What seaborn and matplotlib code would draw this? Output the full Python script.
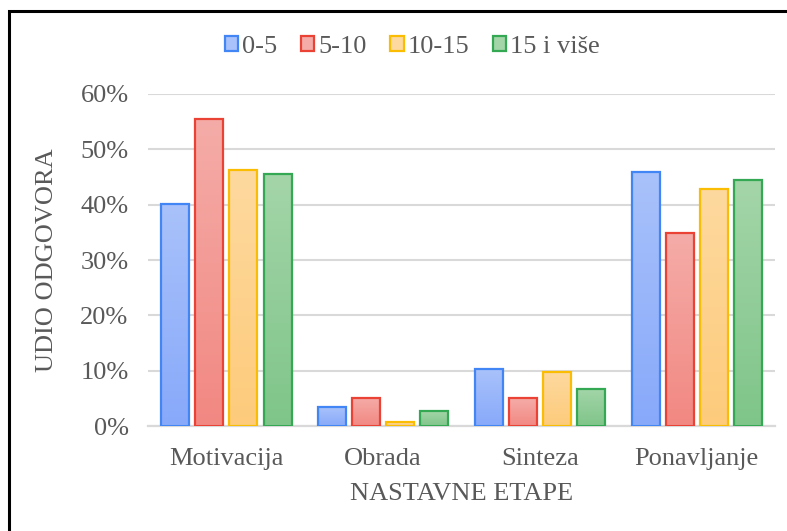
import numpy as np
import pandas as pd
import seaborn as sns
import matplotlib.pyplot as plt
from matplotlib.patches import Patch, Rectangle
from matplotlib.colors import LinearSegmentedColormap

# data
etape = ["Motivacija", "Obrada", "Sinteza", "Ponavljanje"]
grupe = ["0-5", "5-10", "10-15", "15 i više"]
v_0_5 = [0.402, 0.034, 0.103, 0.459]
v_5_10 = [0.555, 0.051, 0.050, 0.349]
v_10_15 = [0.463, 0.007, 0.098, 0.429]
v_15_vise = [0.456, 0.027, 0.067, 0.445]

edge_cols = ["#4285f4", "#ea4335", "#fbbc04", "#34a853"]
top_cols = ["#a9c2fb", "#f5aca8", "#fed99f", "#a4d5a9"]
bot_cols = ["#88a9fa", "#f28882", "#fdcb7b", "#7fc589"]

df = pd.DataFrame({
    "etapa": etape * 4,
    "grupa": np.repeat(grupe, 4),
    "udio": v_0_5 + v_5_10 + v_10_15 + v_15_vise,
})

sns.set_theme(style="white")
plt.rcParams["font.family"] = ["Liberation Serif", "DejaVu Serif"]
txt = "#595959"
fs = 19

fig = plt.figure(figsize=(7.87, 5.31), dpi=100)
ax = fig.add_axes([0.188, 0.1977, 0.797, 0.6253])

sns.barplot(data=df, x="etapa", y="udio", hue="grupa", order=etape,
            hue_order=grupe, palette=edge_cols, width=0.87, gap=0.18,
            legend=False, ax=ax)

# gradient fill for every bar, outline in series colour
for i, cont in enumerate(ax.containers):
    cmap = LinearSegmentedColormap.from_list("g%d" % i, [bot_cols[i], top_cols[i]])
    for p in cont.patches:
        x0, y0 = p.get_x(), p.get_y()
        w, h = p.get_width(), p.get_height()
        p.set_facecolor("none")
        p.set_edgecolor(edge_cols[i])
        p.set_linewidth(1.6)
        p.set_zorder(3)
        grad = np.linspace(0, 1, 100).reshape(-1, 1)
        im = ax.imshow(grad, cmap=cmap, origin="lower", aspect="auto",
                       extent=[x0, x0 + w, y0, y0 + h], zorder=2)
        im.set_clip_path(p)

ax.set_xlim(-0.5, 3.5)
ax.set_ylim(0, 0.6)
ax.set_yticks([0, 0.1, 0.2, 0.3, 0.4, 0.5, 0.6])
ax.set_yticklabels(["0%", "10%", "20%", "30%", "40%", "50%", "60%"])
ax.yaxis.grid(True, color="#d9d9d9", linewidth=1.5, zorder=0)
ax.set_axisbelow(True)
for s in ["top", "right", "left"]:
    ax.spines[s].set_visible(False)
ax.spines["bottom"].set_color("#d9d9d9")
ax.spines["bottom"].set_linewidth(1.6)
ax.tick_params(axis="y", length=0, pad=14, labelsize=fs, labelcolor=txt)
ax.tick_params(axis="x", length=0, pad=16, labelsize=fs, labelcolor=txt)
ax.set_xlabel("NASTAVNE ETAPE", fontsize=fs, color=txt, labelpad=9)
ax.set_ylabel("UDIO ODGOVORA", fontsize=fs, color=txt, labelpad=16)

handles = [Patch(facecolor=top_cols[i], edgecolor=edge_cols[i], linewidth=1.6)
           for i in range(4)]
fig.legend(handles, grupe, loc="center", bbox_to_anchor=(0.524, 0.912),
           ncol=4, frameon=False, fontsize=fs, labelcolor=txt,
           handlelength=0.5, handleheight=0.5, handletextpad=0.15,
           columnspacing=0.9)

# frame of the original chart area
fig.patches.append(Rectangle((0.0115, -0.05), 1.1, 1.03, transform=fig.transFigure,
                             fill=False, edgecolor="black", linewidth=2.2))

fig.savefig("out.png", dpi=100)
